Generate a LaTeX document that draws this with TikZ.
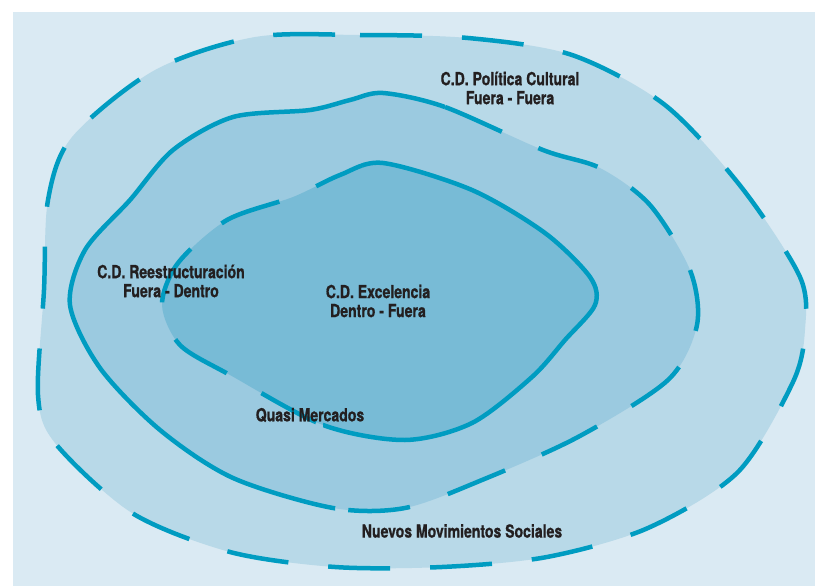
\documentclass[tikz,border=0pt]{standalone}
\usepackage{fontspec}
\newfontfamily\labelfont[FakeStretch=0.78,FakeBold=0.8]{TeX Gyre Heros}
\definecolor{bgcol}{HTML}{DAEAF3}
\definecolor{outercol}{HTML}{B8D9E8}
\definecolor{midcol}{HTML}{9BCAE0}
\definecolor{innercol}{HTML}{78BBD6}
\definecolor{linecol}{HTML}{009CC1}
\definecolor{textcol}{HTML}{231F20}

\begin{document}
\begin{tikzpicture}[x=1pt,y=-1pt,
    contour/.style={line width=4.5pt,draw=linecol},
    dashcontour/.style={contour,dash pattern=on 62pt off 40pt},
    lab/.style={align=center,inner sep=0pt,text=textcol,
      font=\labelfont\bfseries\fontsize{18}{19}\selectfont}]
  \useasboundingbox (0,0) rectangle (815,586);
  \fill[bgcol] (13,12) rectangle (815,586);
  % outer zone
  \filldraw[fill=outercol,dashcontour] plot[smooth cycle] coordinates {
    (255,37) (360,35) (468,38) (572,55) (665,105) (742,188) (800,277)
    (805,330) (793,382) (738,472) (648,528) (547,557) (442,567) (335,567)
    (230,552) (132,513) (55,443) (38,395) (44,290) (48,200) (72,137) (155,70)};
  % middle zone
  \path[fill=midcol,save path=\midpath] plot[smooth cycle] coordinates {
    (383,93) (445,107) (543,150) (600,168) (650,205) (690,270) (697,325)
    (668,380) (578,437) (482,480) (405,508) (333,508) (233,478) (160,430)
    (100,368) (70,305) (85,250) (130,200) (173,150) (233,117) (310,110) (350,100)};
  % inner zone
  \path[fill=innercol,save path=\innerpath] plot[smooth cycle] coordinates {
    (383,163) (472,190) (545,233) (590,277) (595,305) (565,340) (532,377)
    (472,423) (405,440) (323,425) (230,375) (180,345) (162,305) (178,263)
    (227,220) (293,197) (340,175)};
  % middle outline: solid left, dashed right
  \begin{scope}
    \clip (445,-10) -- (445,107) -- (335,508) -- (335,600) -- (-10,600) -- (-10,-10) -- cycle;
    \draw[contour,use path=\midpath];
  \end{scope}
  \begin{scope}
    \clip (445,-10) -- (445,107) -- (335,508) -- (335,600) -- (900,600) -- (900,-10) -- cycle;
    \draw[dashcontour,use path=\midpath];
  \end{scope}
  % inner outline: dashed left, solid right
  \begin{scope}
    \clip (363,-10) -- (363,165) -- (323,425) -- (323,600) -- (900,600) -- (900,-10) -- cycle;
    \draw[contour,use path=\innerpath];
  \end{scope}
  \begin{scope}
    \clip (363,-10) -- (363,165) -- (323,425) -- (323,600) -- (-10,600) -- (-10,-10) -- cycle;
    \draw[dashcontour,use path=\innerpath];
  \end{scope}
  % labels
  \node[lab] (politica) at (510,88) {C.D. Política Cultural\\Fuera - Fuera};
  \node[lab] (reestruct) at (171,281) {C.D. Reestructuración\\Fuera - Dentro};
  \node[lab] (excelencia) at (378,301) {C.D. Excelencia\\Dentro - Fuera};
  \node[lab] (quasi) at (310,415) {Quasi Mercados};
  \node[lab] (nuevos) at (462,531) {Nuevos Movimientos Sociales};
\end{tikzpicture}
\end{document}
